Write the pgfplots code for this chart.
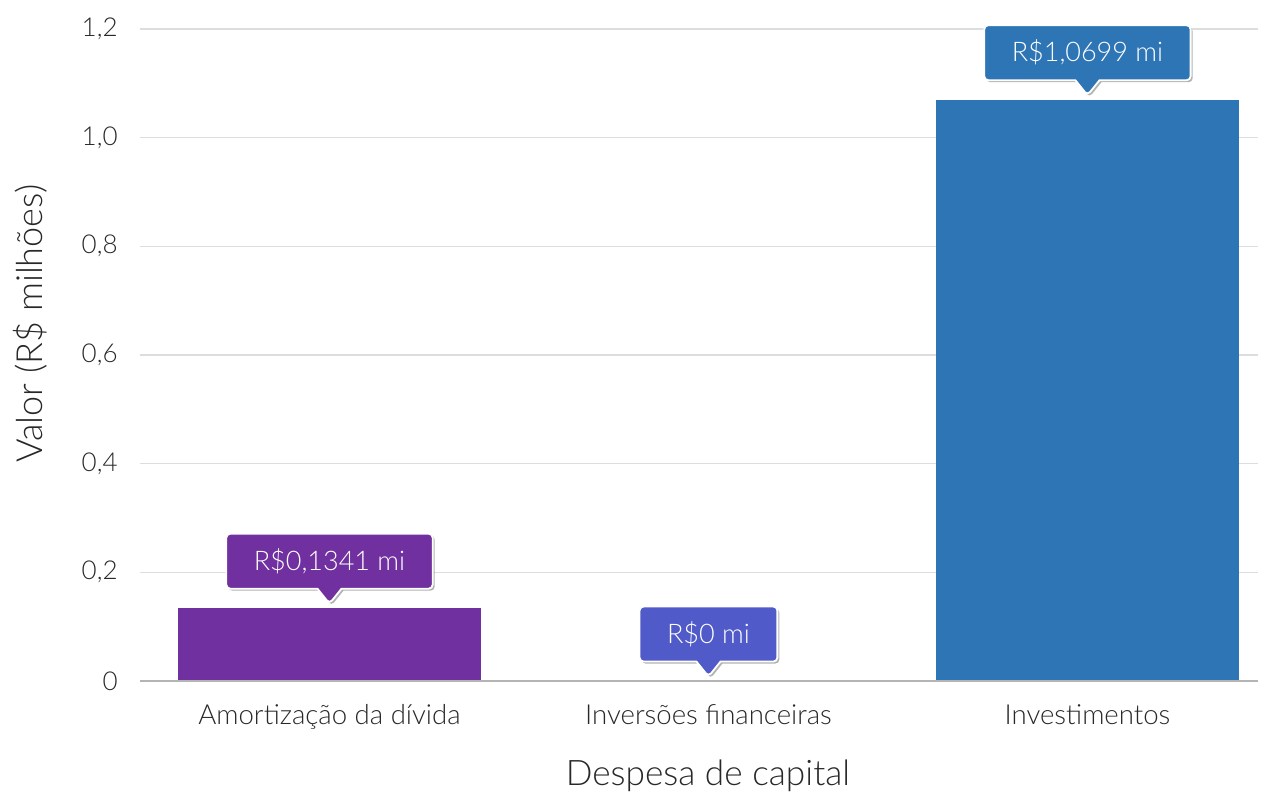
\documentclass[border=0pt]{standalone}
\usepackage{pgfplots}
\pgfplotsset{compat=1.18}
\usepackage{fontspec}
\setmainfont{Lato Light}
\usetikzlibrary{shadows,shapes.callouts}
\definecolor{cpurple}{RGB}{112,48,160}
\definecolor{cindigo}{RGB}{80,90,200}
\definecolor{cblue}{RGB}{46,117,182}
\definecolor{gridc}{RGB}{221,221,221}
\definecolor{basec}{RGB}{180,180,180}
\definecolor{txt}{RGB}{40,40,40}
\tikzset{callbox/.style={rectangle callout, fill=#1, draw=white, line width=0.9pt,
  rounded corners=2pt, text=white, font=\fontsize{13.5}{16}\selectfont,
  inner xsep=13.75pt, inner ysep=0pt, minimum height=27.5pt,
  callout relative pointer={(270:7.5pt)}, callout pointer width=12pt,
  anchor=pointer, yshift=1.5pt,
  drop shadow={shadow xshift=1pt, shadow yshift=-1pt, opacity=0.3, fill=black}}}
\begin{document}
\begin{tikzpicture}
\begin{axis}[
  scale only axis, width=559pt, height=326pt,
  ybar, bar width=0.8, bar shift=0pt,
  xmin=-0.5, xmax=2.45, ymin=0, ymax=1.2,
  axis line style={draw=none},
  xtick={0,1,2},
  xticklabels={Amortização da dívida, Inversões financeiras, Investimentos},
  ytick={0,0.2,0.4,0.6,0.8,1.0,1.2},
  yticklabels={0,{0,2},{0,4},{0,6},{0,8},{1,0},{1,2}},
  major tick length=0pt,
  ymajorgrids, grid style={gridc, line width=0.75pt},
  xticklabel style={anchor=base, yshift=-22pt, font=\fontsize{13.8}{15}\selectfont, text=txt},
  yticklabel style={anchor=east, inner sep=0pt, xshift=-11pt, font=\fontsize{13}{15}\selectfont, text=txt},
  xlabel={Despesa de capital},
  ylabel={Valor (R\$ milhões)},
  xlabel style={at={(axis description cs:0.508,-0.1457)}, anchor=center, font=\fontsize{17.6}{19}\selectfont, text=txt},
  ylabel style={at={(axis description cs:-0.0984,0.548)}, anchor=center, font=\fontsize{18}{20}\selectfont, text=txt},
  clip=false,
]
\addplot[fill=cpurple, draw=none, nodes near coords={R\$0,1341 mi},
  every node near coord/.append style={callbox=cpurple}] coordinates {(0,0.1341)};
\addplot[fill=cindigo, draw=none, nodes near coords={R\$0 mi},
  every node near coord/.append style={callbox=cindigo}] coordinates {(1,0)};
\addplot[fill=cblue, draw=none, nodes near coords={R\$1,0699 mi},
  every node near coord/.append style={callbox=cblue}] coordinates {(2,1.0699)};
\draw[basec, line width=1pt] (rel axis cs:0,0) -- (rel axis cs:1,0);
\end{axis}
\path (current axis.south west) ++(-70pt,-56.5pt) rectangle ++(632.5pt,397pt);
\end{tikzpicture}
\end{document}
